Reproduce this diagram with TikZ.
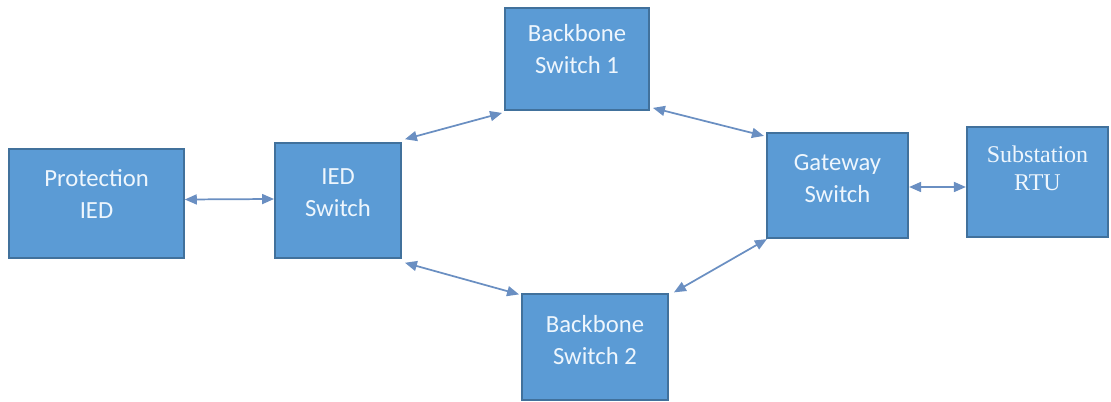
\documentclass[tikz,border=0pt]{standalone}
\usepackage{fontspec}
\setmainfont{Carlito}
\newfontfamily\rtuserif{Liberation Serif}
\usetikzlibrary{arrows.meta}
\definecolor{boxfill}{HTML}{5B9BD5}
\definecolor{boxline}{HTML}{41719C}
\definecolor{linkcol}{HTML}{6A8FC2}
\definecolor{txtcol}{HTML}{EEF6FD}
\begin{document}
\begin{tikzpicture}[x=0.75pt,y=-0.75pt,
  box/.style={draw=boxline,fill=boxfill,line width=1.4pt,inner sep=0pt},
  lbl/.style={align=center,text=txtcol,inner sep=0pt,font=\fontsize{18.5}{24}\selectfont},
  rtulbl/.style={align=center,text=txtcol,inner sep=0pt,font=\rtuserif\fontsize{18}{21}\selectfont},
  link/.style={draw=linkcol,line width=1.3pt,{Triangle[length=9pt,width=7.5pt]}-{Triangle[length=9pt,width=7.5pt]}}]
\useasboundingbox (0,0) rectangle (1111,402);
% boxes
\node[box,minimum width=131pt,minimum height=82pt] (prot) at (96.5,203.5) {};
\node[box,minimum width=94.5pt,minimum height=86pt] (ieds) at (338,200.5) {};
\node[box,minimum width=108pt,minimum height=76.5pt] (bb1) at (577,59) {};
\node[box,minimum width=109.5pt,minimum height=79pt] (bb2) at (595,347) {};
\node[box,minimum width=106pt,minimum height=79pt] (gw) at (837.5,185.5) {};
\node[box,minimum width=106pt,minimum height=82.5pt] (rtu) at (1037.5,182) {};
% labels
\node[lbl] (protL) at (96.5,194) {Protection\\IED};
\node[lbl] (iedsL) at (338,192.5) {IED\\Switch};
\node[lbl] (bb1L) at (577,49) {Backbone\\Switch 1};
\node[lbl] (bb2L) at (595,340) {Backbone\\Switch 2};
\node[lbl] (gwL) at (837.5,179) {Gateway\\Switch};
\node[rtulbl] (rtuL) at (1037.5,168) {\rtuserif Substation\\\rtuserif RTU};
% links
\coordinate (p1) at ([shift={(0,-4)}]prot.east);
\coordinate (p2) at ([shift={(0,-1.5)}]ieds.west);
\draw[link] (p1) -- (p2);
\draw[link] ([shift={(3,-3)}]ieds.north east) -- ([shift={(-2,2)}]bb1.south west);
\draw[link] ([shift={(3,-3)}]bb1.south east) -- ([shift={(-2,4)}]gw.north west);
\draw[link] ([shift={(3,4)}]ieds.south east) -- ([shift={(-2,1)}]bb2.north west);
\draw[link] ([shift={(1,0)}]gw.south west) -- ([shift={(5,-1)}]bb2.north east);
\draw[link] ([shift={(0,1.5)}]gw.east) -- ([shift={(0,5)}]rtu.west);
\end{tikzpicture}
\end{document}
